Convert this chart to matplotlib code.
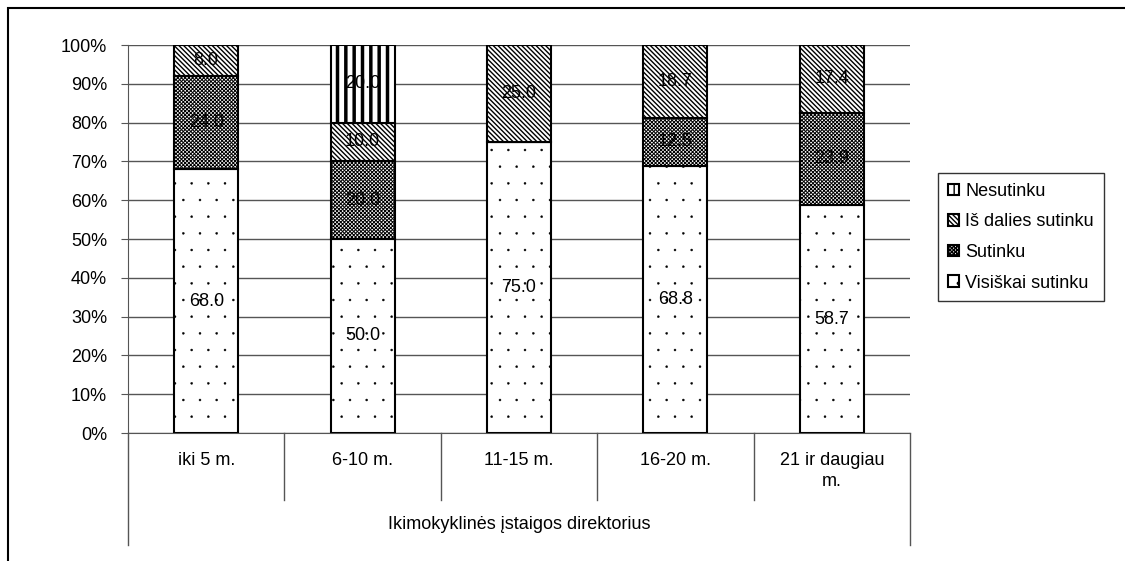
import matplotlib.pyplot as plt
import matplotlib.patches as mpatches
import matplotlib.hatch as mhatch
from matplotlib.lines import Line2D
import numpy as np

plt.rcParams['font.family'] = ['Liberation Sans', 'DejaVu Sans']
# mazesni taskeliai
mhatch.SmallFilledCircles.size = 0.06

categories = ['iki 5 m.', '6-10 m.', '11-15 m.', '16-20 m.', '21 ir daugiau\nm.']
group_label = 'Ikimokyklinės įstaigos direktorius'
series_names = ['Visiškai sutinku', 'Sutinku', 'Iš dalies sutinku', 'Nesutinku']
visiskai = [68.0, 50.0, 75.0, 68.8, 58.7]
sutinku = [24.0, 20.0, 0.0, 12.5, 23.9]
is_dalies = [8.0, 10.0, 25.0, 18.7, 17.4]
nesutinku = [0.0, 20.0, 0.0, 0.0, 0.0]
yticks = [0, 10, 20, 30, 40, 50, 60, 70, 80, 90, 100]

series = [visiskai, sutinku, is_dalies, nesutinku]
hatches = ['.', 'x' * 9, '\\' * 7, '|' * 2]
hatch_lw = [0.3, 0.7, 1.0, 2.5]
FS = 13

fig = plt.figure(figsize=(11.25, 5.61), dpi=100)
# ramelis aplink
fig.patches.append(mpatches.Rectangle((8 / 1125, -0.1), 1.2, 1 - 8 / 561 + 0.1,
                                      transform=fig.transFigure, fill=False,
                                      edgecolor='black', linewidth=1.5))
ax = fig.add_axes([128 / 1125, (561 - 433) / 561, (910 - 128) / 1125, (433 - 45) / 561])

x = np.arange(len(categories))
bottom = np.zeros(len(categories))
for vals, h, hl, name in zip(series, hatches, hatch_lw, series_names):
    vals = np.array(vals)
    plt.rcParams['hatch.linewidth'] = hl
    ax.bar(x, vals, 0.41, bottom=bottom, color='white', edgecolor='black',
           hatch=h, linewidth=1.5, label=name, zorder=3)
    for xi, v, b in zip(x, vals, bottom):
        if v > 0:
            ax.text(xi, b + v / 2, f'{v:.1f}', ha='center', va='center',
                    fontsize=FS, zorder=4)
    bottom += vals

ax.set_xlim(-0.5, len(categories) - 0.5)
ax.set_ylim(0, 100)
ax.set_yticks(yticks)
ax.set_yticklabels([f'{t}%' for t in yticks], fontsize=FS)
ax.yaxis.grid(True, color='#555555', linewidth=1, zorder=0)
ax.set_xticks([])
for s in ['top', 'right']:
    ax.spines[s].set_visible(False)
ax.spines['left'].set_color('#555555')
ax.spines['bottom'].set_color('#555555')
ax.tick_params(axis='y', length=5, color='#555555', pad=10)

# kategoriju pavadinimai ir skirtukai po asimi
for xi, c in zip(x, categories):
    ax.text(xi, -4.8, c, ha='center', va='top', fontsize=FS, linespacing=1.35)
for i in range(1, len(categories)):
    ax.add_line(Line2D([i - 0.5, i - 0.5], [0, -17.3], color='#555555', lw=1,
                       clip_on=False))
for xe in [-0.5, len(categories) - 0.5]:
    ax.add_line(Line2D([xe, xe], [0, -28.9], color='#555555', lw=1, clip_on=False))
ax.text((len(categories) - 1) / 2, -23.7, group_label, ha='center', va='center',
        fontsize=FS)

handles, labels = ax.get_legend_handles_labels()
plt.rcParams['hatch.linewidth'] = 1.0
leg = fig.legend(handles[::-1], labels[::-1], loc='upper left',
                 bbox_to_anchor=(938 / 1125, 1 - 173 / 561), fontsize=FS,
                 frameon=True, fancybox=False, edgecolor='black',
                 handlelength=0.6, handleheight=0.6, handletextpad=0.35,
                 labelspacing=0.75, borderpad=0.55, borderaxespad=0)
leg.get_frame().set_linewidth(1)

fig.savefig('out.png', dpi=100)
